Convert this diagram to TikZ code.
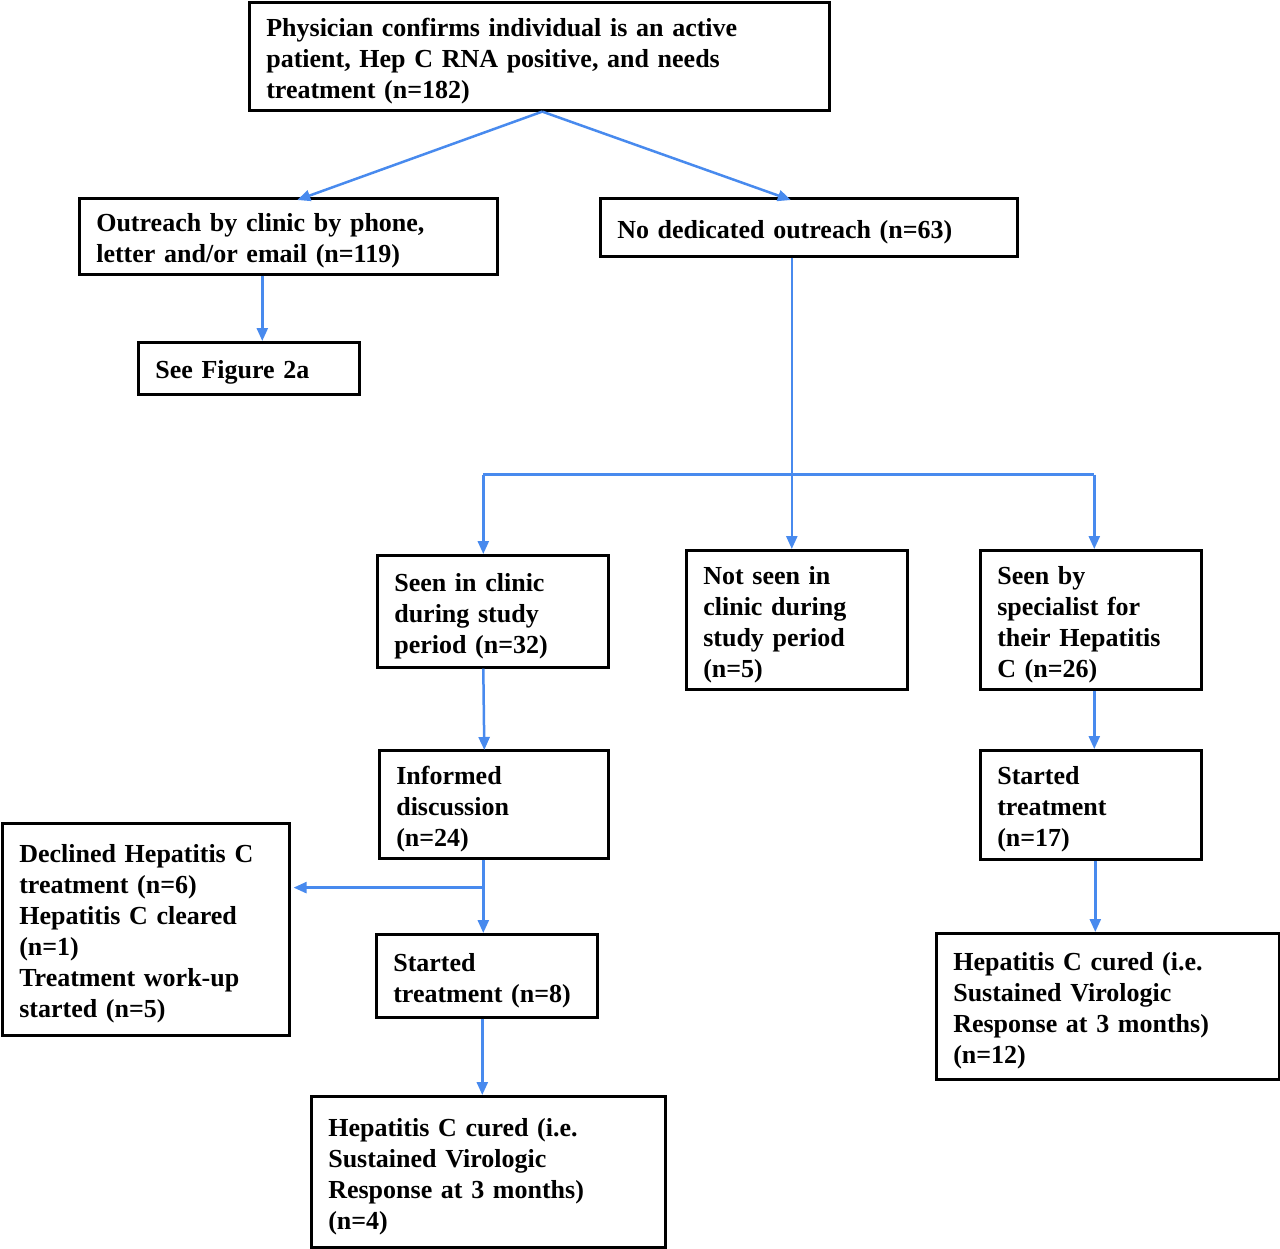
\documentclass[tikz,border=0pt]{standalone}
\usepackage{fontspec}
\setmainfont{Liberation Serif}
\usetikzlibrary{arrows.meta,positioning}
\definecolor{arrblue}{RGB}{72,138,238}
\begin{document}
\begin{tikzpicture}[x=1pt,y=-1pt,
  box/.style={draw=black,line width=2.6pt,rectangle,anchor=north west,align=left,
    inner xsep=17pt,inner ysep=0pt,font=\fontsize{26}{31}\selectfont\bfseries,
    execute at begin node={\rule{0pt}{27pt}}},
  arr/.style={draw=arrblue,line width=2.5pt,-{Triangle[length=13pt,width=11pt]}},
  ln/.style={draw=arrblue,line width=2.5pt}]
\useasboundingbox (0,0) rectangle (1280,1248);
\fill[white] (0,0) rectangle (1280,1248);
% boxes: text width = W - 34, minimum height = H
\node[box,text width=546pt,minimum height=108pt] (top) at (248,1) {Physician confirms individual is an active\\patient, Hep C RNA positive, and needs\\treatment (n=182)};
\node[box,text width=384pt,minimum height=76pt] (outreach) at (78,197) {Outreach by clinic by phone,\\letter and/or email (n=119)};
\node[box,text width=383pt,minimum height=58pt] (nodedic) at (599,197) {No dedicated outreach (n=63)};
\node[box,text width=187pt,minimum height=52pt] (fig) at (137,341) {See Figure 2a};
\node[box,text width=197pt,minimum height=112pt] (seen) at (376,554) {Seen in clinic\\during study\\period (n=32)};
\node[box,text width=187pt,minimum height=139pt] (notseen) at (685,549) {Not seen in\\clinic during\\study period\\(n=5)};
\node[box,text width=187pt,minimum height=139pt] (spec) at (979,549) {Seen by\\specialist for\\their Hepatitis\\C (n=26)};
\node[box,text width=195pt,minimum height=108pt] (inf) at (378,749) {Informed\\discussion\\(n=24)};
\node[box,text width=253pt,minimum height=212pt] (decl) at (1,822) {Declined Hepatitis C\\treatment (n=6)\\Hepatitis C cleared\\(n=1)\\Treatment work-up\\started (n=5)};
\node[box,text width=187pt,minimum height=83pt] (start8) at (375,933) {Started\\treatment (n=8)};
\node[box,text width=187pt,minimum height=109pt] (startR) at (979,749) {Started\\treatment\\(n=17)};
\node[box,text width=309pt,minimum height=146pt] (curedR) at (935,932) {Hepatitis C cured (i.e.\\Sustained Virologic\\Response at 3 months)\\(n=12)};
\node[box,text width=320pt,minimum height=151pt] (curedB) at (310,1095) {Hepatitis C cured (i.e.\\Sustained Virologic\\Response at 3 months)\\(n=4)};
% connectors
\draw[arr] ([xshift=3pt]top.south) -- ([xshift=9pt,yshift=-3pt]outreach.north);
\draw[arr] ([xshift=3pt]top.south) -- ([xshift=-18pt,yshift=-3pt]nodedic.north);
\draw[arr] ([xshift=-26pt]outreach.south) -- ([xshift=-26pt]outreach.south |- fig.north);
\coordinate (split) at ([xshift=-17pt,yshift=-217pt]nodedic.south);
\draw[ln] ([xshift=-17pt]nodedic.south) -- (split);
\draw[ln] ([xshift=-9.5pt]split -| seen.north) -- ([xshift=3.5pt]split -| spec.north);
\draw[arr] ([xshift=-9.5pt]split -| seen.north) -- ([xshift=-9.5pt]seen.north);
\draw[arr] (split) -- (split |- notseen.north);
\draw[arr] ([xshift=3.5pt]split -| spec.north) -- ([xshift=3.5pt]spec.north);
\draw[arr] ([xshift=-9.5pt]seen.south) -- ([xshift=-9.5pt,yshift=-1pt]inf.north);
\coordinate (b2) at ([xshift=-10.5pt,yshift=-28pt]inf.south);
\draw[ln] ([xshift=-10.5pt]inf.south) -- (b2);
\draw[arr] (b2) -- ([xshift=3pt]b2 -| decl.east);
\draw[arr] (b2) -- (b2 |- start8.north);
\draw[arr] ([xshift=3.5pt]spec.south) -- ([xshift=3.5pt]startR.north);
\draw[arr] ([xshift=4.5pt]startR.south) -- ([xshift=4.5pt]startR.south |- curedR.north);
\draw[arr] ([xshift=-4.5pt]start8.south) -- ([xshift=-4.5pt]start8.south |- curedB.north);
\end{tikzpicture}
\end{document}
